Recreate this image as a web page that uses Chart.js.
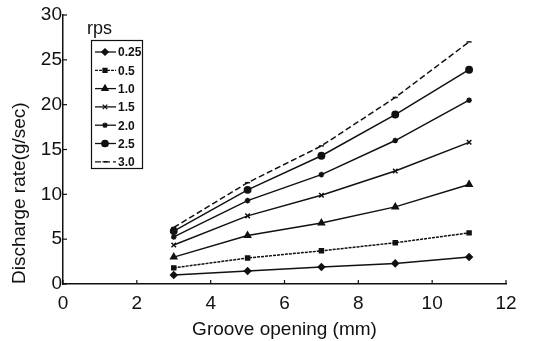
<!DOCTYPE html>
<html>
<head>
<meta charset="utf-8">
<script src="https://cdn.jsdelivr.net/npm/chart.js@4.4.1/dist/chart.umd.min.js"></script>
<style>
  html, body { margin: 0; padding: 0; background: #fff; }
  #wrap { width: 536px; height: 341px; position: relative; }
</style>
</head>
<body>
<div id="wrap"><canvas id="dischargeChart"></canvas></div>
<script>
const grooveOpening = [3, 5, 7, 9, 11];
const rpsLabels = ['0.25', '0.5', '1.0', '1.5', '2.0', '2.5', '3.0'];

const rps025 = [1.0, 1.45, 1.9, 2.3, 3.0];
const rps05 = [1.8, 2.9, 3.7, 4.6, 5.7];
const rps10 = [3.0, 5.4, 6.8, 8.6, 11.1];
const rps15 = [4.35, 7.6, 9.9, 12.6, 15.8];
const rps20 = [5.25, 9.3, 12.2, 16.0, 20.5];
const rps25 = [5.9, 10.5, 14.3, 18.9, 23.9];
const rps30 = [6.3, 11.3, 15.4, 20.8, 27.0];

const xTicks = [0, 2, 4, 6, 8, 10, 12];
const yTicks = [0, 5, 10, 15, 20, 25, 30];

const seriesValues = [rps025, rps05, rps10, rps15, rps20, rps25, rps30];
const markers = ['rectRot', 'rect', 'triangle', 'crossRot', 'star', 'circle', 'line'];
const markerSize = [3.2, 2.8, 3.5, 3.2, 2.8, 3.2, 2.5];
const dashes = [[], [3, 1], [], [], [], [], [6, 3]];

const datasets = seriesValues.map((vals, i) => ({
    label: rpsLabels[i],
    data: vals.map((v, j) => ({ x: grooveOpening[j], y: v })),
    borderColor: '#111',
    backgroundColor: '#111',
    borderWidth: 1.5,
    borderDash: dashes[i],
    pointStyle: markers[i],
    pointRadius: markerSize[i],
    pointBorderWidth: 1.5,
    tension: 0
}));

// small inward tick marks, like the original plot
const innerTicks = {
    id: 'innerTicks',
    afterDraw(chart) {
        const { ctx, chartArea, scales } = chart;
        ctx.save();
        ctx.strokeStyle = '#111';
        ctx.lineWidth = 1.2;
        xTicks.forEach(v => {
            const px = scales.x.getPixelForValue(v);
            ctx.beginPath();
            ctx.moveTo(px, chartArea.bottom);
            ctx.lineTo(px, chartArea.bottom - 4);
            ctx.stroke();
        });
        yTicks.forEach(v => {
            const py = scales.y.getPixelForValue(v);
            ctx.beginPath();
            ctx.moveTo(chartArea.left, py);
            ctx.lineTo(chartArea.left + 4, py);
            ctx.stroke();
        });
        ctx.restore();
    }
};

// legend box drawn inside the plot like the original figure
const boxLegend = {
    id: 'boxLegend',
    afterDraw(chart) {
        const ctx = chart.ctx;
        ctx.save();
        ctx.fillStyle = '#111';
        ctx.font = '18px "Liberation Sans", Arial, sans-serif';
        ctx.textBaseline = 'alphabetic';
        ctx.fillText('rps', 87, 34);

        ctx.strokeStyle = '#111';
        ctx.lineWidth = 1.2;
        ctx.strokeRect(91.5, 40.5, 51, 128);

        chart.data.datasets.forEach((ds, i) => {
            const y = 52 + i * 18.3;
            ctx.setLineDash(ds.borderDash || []);
            ctx.lineWidth = 1.3;
            ctx.beginPath();
            ctx.moveTo(95, y);
            ctx.lineTo(116, y);
            ctx.stroke();
            ctx.setLineDash([]);
            Chart.helpers.drawPoint(ctx, {
                pointStyle: ds.pointStyle,
                radius: ds.pointRadius,
                borderWidth: 1.2,
                rotation: 0
            }, 105, y);
            ctx.fill();
            ctx.font = 'bold 12px "Liberation Sans Narrow", "Liberation Sans", Arial, sans-serif';
            ctx.textBaseline = 'middle';
            ctx.fillText(ds.label, 118, y + 1);
        });
        ctx.restore();
    }
};

const fontFamily = '"Liberation Sans", Arial, sans-serif';
const tickFont = { family: fontFamily, size: 19 };

new Chart(document.getElementById('dischargeChart').getContext('2d'), {
    type: 'line',
    data: { datasets },
    plugins: [innerTicks, boxLegend],
    options: {
        responsive: true,
        maintainAspectRatio: false,
        animation: false,
        layout: { padding: { top: 15, right: 30, left: 0, bottom: 0 } },
        plugins: {
            legend: { display: false },
            tooltip: { enabled: false }
        },
        scales: {
            x: {
                type: 'linear',
                min: 0,
                max: 12,
                afterBuildTicks: (scale) => { scale.ticks = xTicks.map(v => ({ value: v })); },
                afterFit: (scale) => { scale.height = 57; },
                grid: { display: false, drawTicks: false },
                border: { display: true, color: '#111', width: 1.5 },
                ticks: { color: '#111', font: tickFont, padding: 8, maxRotation: 0 },
                title: {
                    display: true,
                    text: 'Groove opening (mm)',
                    color: '#111',
                    font: { family: fontFamily, size: 19 },
                    padding: { top: 0, bottom: 0 }
                }
            },
            y: {
                min: 0,
                max: 30,
                afterBuildTicks: (scale) => { scale.ticks = yTicks.map(v => ({ value: v })); },
                afterFit: (scale) => { scale.width = 63; },
                grid: { display: false, drawTicks: false },
                border: { display: true, color: '#111', width: 1.5 },
                ticks: { color: '#111', font: tickFont, padding: 1 },
                title: {
                    display: true,
                    text: 'Discharge rate(g/sec)',
                    align: 'start',
                    color: '#111',
                    font: { family: fontFamily, size: 19 },
                    padding: { top: 8, bottom: 0 }
                }
            }
        }
    }
});
</script>
</body>
</html>
